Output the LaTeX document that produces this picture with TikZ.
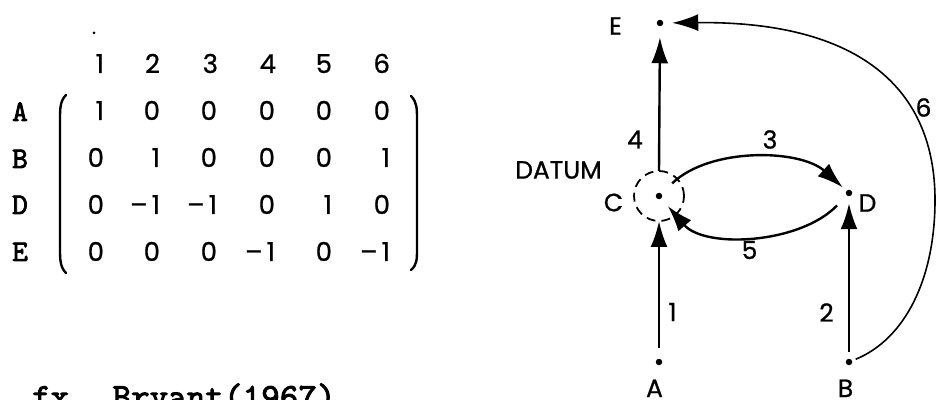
\documentclass[tikz,border=0pt]{standalone}
\usepackage{fontspec}
\setmainfont{Poppins}[FakeBold=0.8]
\newfontfamily\typefont{lmmono10-regular}[Extension=.otf, FakeBold=2.5]
\usetikzlibrary{arrows.meta}

\begin{document}
\begin{tikzpicture}[x=1pt,y=1pt]
\tikzset{ >={Latex[length=26pt,width=17pt]}, inner sep=0pt, outer sep=0pt,
  pt/.style={fill=black, circle, minimum size=6.5pt},
  edge/.style={->, line width=2.4pt},
  entry/.style={anchor=base east, font=\fontsize{26}{26}\selectfont},
  rowlab/.style={anchor=base, font=\typefont\fontsize{30}{30}\selectfont},
  lab/.style={font=\fontsize{25}{25}\selectfont} }
\useasboundingbox (0,0) rectangle (936,399);
%\draw [lightgray, dashed](0,0) grid [step=50] (936,399);

% incidence matrix
\node [fill=black, circle, minimum size=3pt] (stray) at (94,366) {};

\node [entry] (h1) at (104,326) {1};
\node [entry] (h2) at (160,326) {2};
\node [entry] (h3) at (218,326) {3};
\node [entry] (h4) at (276,326) {4};
\node [entry] (h5) at (332,326) {5};
\node [entry] (h6) at (390,326) {6};

\node [rowlab] (rA) at (20,278) {A};
\node [rowlab] (rB) at (20,231) {B};
\node [rowlab] (rD) at (20,185) {D};
\node [rowlab] (rE) at (20,138) {E};

\node [entry] (A1) at (104,279) {1};
\node [entry] (A2) at (160,279) {0};
\node [entry] (A3) at (217,279) {0};
\node [entry] (A4) at (275,279) {0};
\node [entry] (A5) at (332,279) {0};
\node [entry] (A6) at (390,279) {0};

\node [entry] (B1) at (104,232) {0};
\node [entry] (B2) at (160,232) {1};
\node [entry] (B3) at (217,232) {0};
\node [entry] (B4) at (275,232) {0};
\node [entry] (B5) at (332,232) {0};
\node [entry] (B6) at (390,232) {1};

\node [entry] (D1) at (104,185) {0};
\node [entry] (D2) at (160,185) {--\hspace{4pt}1};
\node [entry] (D3) at (217,185) {--\hspace{4pt}1};
\node [entry] (D4) at (275,185) {0};
\node [entry] (D5) at (332,185) {1};
\node [entry] (D6) at (390,185) {0};

\node [entry] (E1) at (104,138) {0};
\node [entry] (E2) at (160,138) {0};
\node [entry] (E3) at (217,138) {0};
\node [entry] (E4) at (275,138) {--\hspace{4pt}1};
\node [entry] (E5) at (332,138) {0};
\node [entry] (E6) at (390,138) {--\hspace{4pt}1};

\draw [line width=2.4pt, line cap=round] (66,304) .. controls (60,298) and (60,290) .. (60,280)
  -- (60,150) .. controls (60,140) and (60,132) .. (66,126);
\draw [line width=2.4pt, line cap=round] (411,303) .. controls (417,297) and (417,290) .. (417,280)
  -- (417,150) .. controls (417,140) and (417,134) .. (411,129);

\node [anchor=base west, font=\typefont\fontsize{35.4}{35.4}\selectfont] (src) at (32,-9) {fx. Bryant(1967)};

% network
\node [pt] (E) at (660,376) {};
\node [pt] (C) at (659,203) {};
\node [pt] (D) at (849,206) {};
\node [pt] (A) at (659,37) {};
\node [pt] (B) at (849,37) {};
\node [draw, circle, dash pattern=on 9pt off 6pt, line width=1.8pt, minimum size=50pt] (datum) at (C) {};
\coordinate (R) at (935,199);

\draw [edge, shorten <=11pt] (A) -- (datum.south);
\draw [edge, shorten <=7pt, shorten >=7pt] (B) -- (D);
\draw [edge, shorten >=11pt] (datum.north) -- (E);
\draw [edge, shorten <=15pt, shorten >=5pt] (C) .. controls (710,252) and (800,250) .. (D);
\draw [edge, shorten <=14pt, shorten >=10pt] (D) .. controls (800,155) and (705,150) .. (C);
\draw [->, line width=1.6pt, shorten <=4pt, shorten >=9pt] (B) .. controls (905,60) and (935,120) .. (R)
  .. controls (935,310) and (860,378) .. (E);

\node [lab] (lE) at (615.5,373) {E};
\node [lab] (lC) at (613.5,196.5) {C};
\node [lab] (lD) at (867.5,196) {D};
\node [lab] (lDatum) at (558.5,229) {DATUM};
\node [lab, anchor=base] (lA) at (654.5,2) {A};
\node [lab, anchor=base] (lB) at (845.5,2) {B};

\node [lab] (l1) at (672.5,87) {1};
\node [lab] (l2) at (826.5,86.5) {2};
\node [lab] (l3) at (770,259.5) {3};
\node [lab] (l4) at (635,259.5) {4};
\node [lab] (l5) at (749.5,149) {5};
\node [lab] (l6) at (923.5,291.5) {6};

\end{tikzpicture}
\end{document}
